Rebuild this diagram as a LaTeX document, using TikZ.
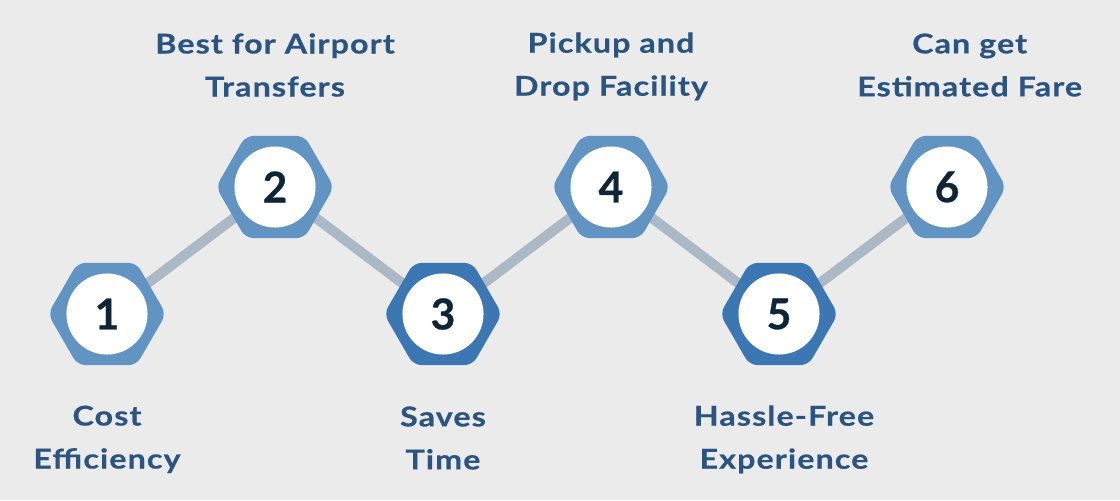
\documentclass[tikz,border=0pt]{standalone}
\usepackage{fontspec}
\setmainfont{Lato}[FakeBold=0.6]
\newfontfamily\lblfont{Lato}[FakeStretch=1.18, LetterSpace=4, FakeBold=0.5]
\usetikzlibrary{positioning,shapes.geometric,backgrounds}
\definecolor{hexlight}{HTML}{6193C3}
\definecolor{hexdark}{HTML}{3C77B4}
\definecolor{linkgray}{HTML}{ABB8C6}
\definecolor{txtblue}{HTML}{2B5580}
\definecolor{numnavy}{HTML}{0E2538}
\definecolor{bggray}{HTML}{EBEBEB}

\begin{document}
\begin{tikzpicture}[
  x=0.75pt, y=-0.75pt,
  on grid,
  node distance=95.25pt and 126pt,
  hexa/.style={regular polygon, regular polygon sides=6, minimum size=88.5pt, inner sep=0pt, fill=hexlight, rounded corners=6pt, font=\fontsize{32}{32}\selectfont\bfseries, text=numnavy, path picture={\fill[white] (path picture bounding box.center) circle (30.4pt);}},
  hexd/.style={hexa, fill=hexdark},
  lbl/.style={font=\lblfont\fontsize{20.5}{32.25}\selectfont\bfseries, text=txtblue, align=center},
  e/.style={line width=7.5pt, draw=linkgray}
]
\node[hexa] (H1) at (107,314) {1};
\node[hexa, above right=of H1] (H2) {2};
\node[hexd, below right=of H2] (H3) {3};
\node[hexa, above right=of H3] (H4) {4};
\node[hexd, below right=of H4] (H5) {5};
\node[hexa, above right=of H5] (H6) {6};

\node[lbl, below=94pt of H1] (L1) {Cost\\Efficiency};
\node[lbl, above=91.5pt of H2] (L2) {Best for Airport\\Transfers};
\node[lbl, below=93pt of H3] (L3) {Saves\\Time};
\node[lbl, above=90.5pt of H4] (L4) {Pickup and\\Drop Facility};
\node[lbl, below=94pt of H5, xshift=3.75pt] (L5) {Hassle-Free\\Experience};
\node[lbl, above=91.5pt of H6, xshift=17pt] (L6) {Can get\\Estimated Fare};

\begin{scope}[on background layer]
\fill[bggray] (0,0) rectangle (1120,500);
\draw[e] (H1.center) -- (H2.center) -- (H3.center) -- (H4.center) -- (H5.center) -- (H6.center);
\end{scope}
\end{tikzpicture}
\end{document}
